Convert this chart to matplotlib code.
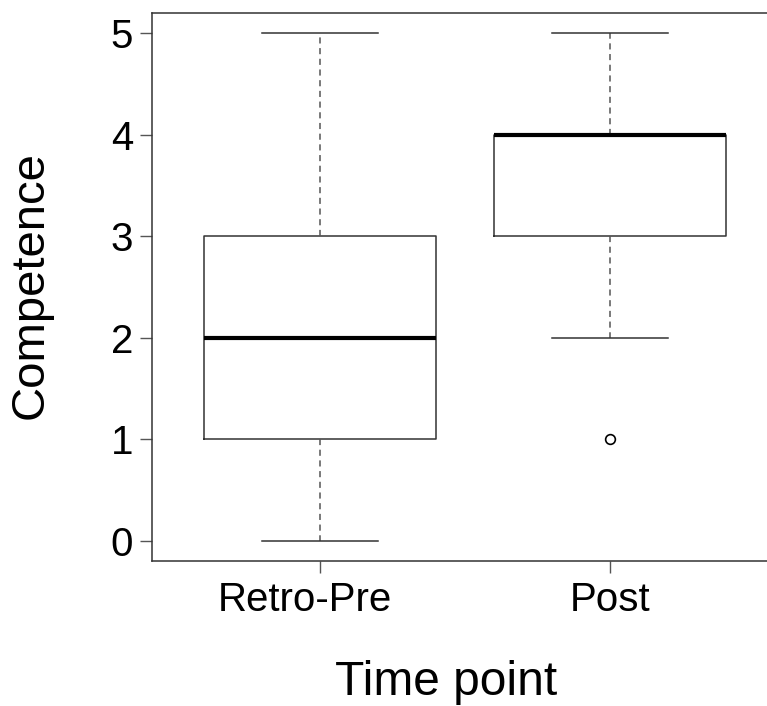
import matplotlib
matplotlib.use('Agg')
import matplotlib.pyplot as plt
import matplotlib.transforms as mtransforms

# ── Data ────────────────────────────────────────────────────────────────────
groups     = ['Retro-Pre', 'Post']
whisk_lo   = [0, 2]
q1         = [1, 3]
medians    = [2, 4]
q3         = [3, 4]
whisk_hi   = [5, 5]
outliers   = [[], [1]]
y_ticks    = [0, 1, 2, 3, 4, 5]

plt.rcParams['font.family'] = ['Liberation Sans', 'DejaVu Sans']

fig = plt.figure(figsize=(7.67, 7.06), dpi=100)
# right edge of plot region lies just outside the picture (cropped)
ax = fig.add_axes([152 / 767, 1 - 561 / 706, 626 / 767, 548 / 706])

stats = [dict(label=g, whislo=wl, q1=a, med=m, q3=b, whishi=wh, fliers=f)
         for g, wl, a, m, b, wh, f in zip(groups, whisk_lo, q1, medians,
                                           q3, whisk_hi, outliers)]

edge = '#333333'
ax.bxp(stats, positions=[1, 2], widths=0.8, showfliers=True,
       boxprops=dict(color=edge, linewidth=1.1),
       medianprops=dict(color='black', linewidth=3.0),
       whiskerprops=dict(color='#555555', linewidth=1.1,
                         linestyle=(0, (4, 3))),
       capprops=dict(color=edge, linewidth=1.1),
       capwidths=0.4,
       flierprops=dict(marker='o', markersize=7, markerfacecolor='white',
                       markeredgecolor='black', markeredgewidth=1.2))

ax.set_xlim(0.42, 2.58)
ax.set_ylim(-0.2, 5.2)
ax.set_yticks(y_ticks)
ax.set_xticks([1, 2])
ax.set_xticklabels(groups)

for s in ax.spines.values():
    s.set_color(edge)
    s.set_linewidth(1.1)

ax.tick_params(axis='both', direction='out', length=8.6, width=1.0,
               color='#555555', labelsize=29)
ax.tick_params(axis='y', pad=5)
ax.tick_params(axis='x', pad=6)

# first category label sits a little left of its tick in the reference
lbl = ax.get_xticklabels()[0]
lbl.set_transform(lbl.get_transform() +
                  mtransforms.ScaledTranslation(-15 / 100, 0, fig.dpi_scale_trans))

fig.text(446 / 767, 1 - 695 / 706, 'Time point', fontsize=34.5,
         ha='center', va='baseline')
fig.text(31 / 767, 1 - 285 / 706, 'Competence', fontsize=34,
         ha='center', va='center', rotation=90)

fig.savefig('out.png', dpi=100)
